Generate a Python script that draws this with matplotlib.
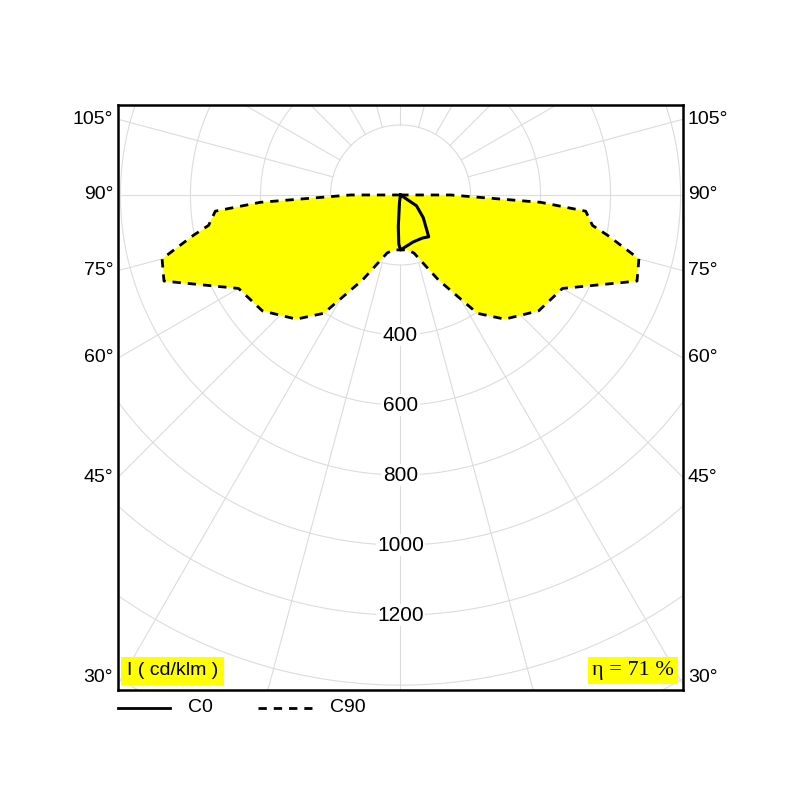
import numpy as np
import matplotlib.pyplot as plt

plt.rcParams['font.family'] = ['Liberation Sans', 'DejaVu Sans']

# gamma (deg from nadir), intensity (cd/klm) - symmetric halves
c90_gamma = [0, 7, 13, 24, 33, 40, 50, 60, 70, 75, 79, 81, 85, 87, 90, 90]
c90_r = [157, 158, 170, 265, 403, 463, 515, 534, 719, 705, 602, 555, 531, 401, 143, 0]
c0_gamma = [-90, -8, -4, -2, 0, 15, 27, 34, 45, 56, 90]
c0_r = [0, 20, 90, 140, 157, 139, 138, 144, 92, 55, 0]
ring_labels = [400, 600, 800, 1000, 1200]
side_angles = [30, 45, 60, 75, 90, 105]


def to_xy(g, r):
    g = np.radians(np.asarray(g, float))
    r = np.asarray(r, float)
    return r * np.sin(g), -r * np.cos(g)


fig = plt.figure(figsize=(8, 8), dpi=100)
ax = fig.add_axes([0.1475, 0.1375, 0.70625, 0.73125])
xmax, ytop, ybot = 806, 257, -1414
ax.set_xlim(-xmax, xmax)
ax.set_ylim(ybot, ytop)
ax.set_aspect('equal')
ax.set_xticks([])
ax.set_yticks([])
for s in ax.spines.values():
    s.set_linewidth(1.8)

grid = '#dcdcdc'
t = np.linspace(0, 2 * np.pi, 400)
for rr in range(200, 1801, 200):
    ax.plot(rr * np.cos(t), rr * np.sin(t), color=grid, lw=0.8, zorder=1)
for a in range(0, 360, 15):
    x0, y0 = to_xy(a, 200)
    x1, y1 = to_xy(a, 2000)
    ax.plot([x0, x1], [y0, y1], color=grid, lw=0.8, zorder=1)

# C90 symmetric curve
g = np.concatenate([-np.array(c90_gamma[::-1]), c90_gamma])
r = np.concatenate([c90_r[::-1], c90_r])
x, y = to_xy(g, r)
ax.fill(x, y, color='#ffff00', zorder=2, lw=0)
ax.plot(x, y, color='black', lw=2, ls=(0, (3, 2.5)), zorder=3)

x, y = to_xy(c0_gamma, c0_r)
ax.plot(np.append(x, x[0]), np.append(y, y[0]), color='black', lw=2.2, zorder=4)

for v in ring_labels:
    ax.text(0, -v, str(v), ha='center', va='center', fontsize=15,
            bbox=dict(facecolor='white', edgecolor='none', pad=1), zorder=5)

for a in side_angles:
    yy = -xmax / np.tan(np.radians(a)) if a != 90 else 0
    yy = min(max(yy, ybot + 35), ytop - 20)
    for sx, ha in [(-xmax - 15, 'right'), (xmax + 15, 'left')]:
        ax.text(sx, yy, f'{a}°', ha=ha, va='center', fontsize=14, clip_on=False)

ax.text(-xmax + 25, ybot + 55, 'I ( cd/klm )', ha='left', va='center', fontsize=14,
        bbox=dict(facecolor='#ffff00', edgecolor='none', pad=4), zorder=6)
ax.text(xmax - 25, ybot + 55, 'η = 71 %', ha='right', va='center', fontsize=16,
        family='Liberation Serif',
        bbox=dict(facecolor='#ffff00', edgecolor='none', pad=3), zorder=6)

# legend below the frame
fig.lines.append(plt.Line2D([118 / 800, 170 / 800], [1 - 708 / 800] * 2, color='black', lw=2,
                            transform=fig.transFigure))
fig.text(188 / 800, 1 - 708 / 800, 'C0', va='center', fontsize=14)
fig.lines.append(plt.Line2D([258 / 800, 312 / 800], [1 - 708 / 800] * 2, color='black', lw=2,
                            ls=(0, (3, 2.5)), transform=fig.transFigure))
fig.text(330 / 800, 1 - 708 / 800, 'C90', va='center', fontsize=14)

fig.savefig('out.png', dpi=100)
